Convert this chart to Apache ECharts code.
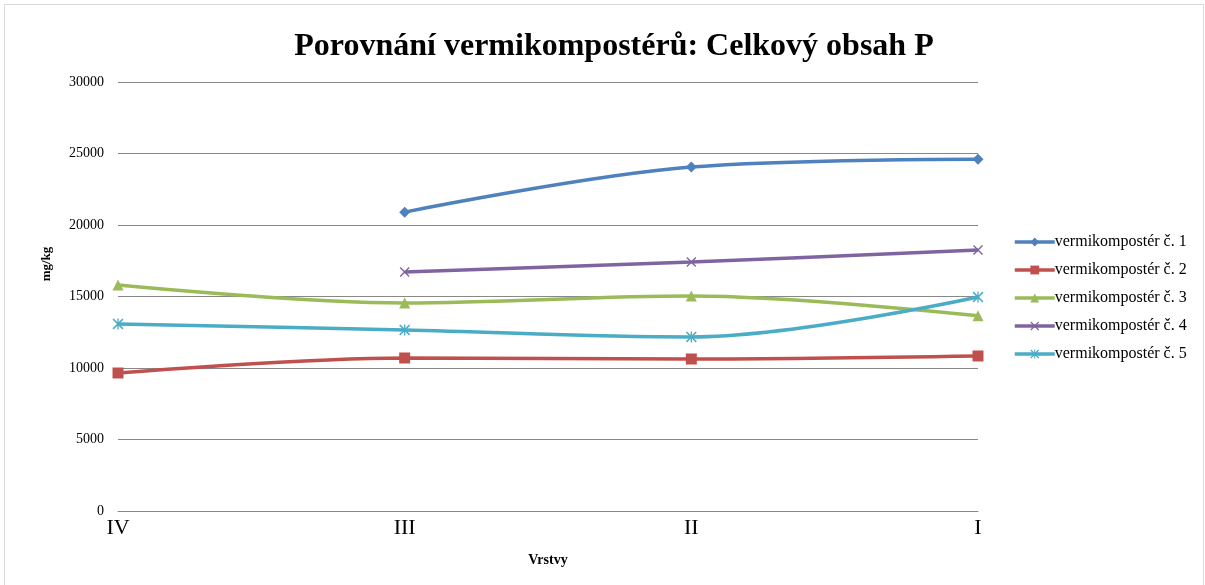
<!DOCTYPE html>
<html>
<head>
<meta charset="utf-8">
<script src="https://cdn.jsdelivr.net/npm/echarts@6/dist/echarts.min.js"></script>
<style>
  html, body { margin: 0; padding: 0; background: #fff; }
  #chart { width: 1205px; height: 585px; }
</style>
</head>
<body>
<div id="chart"></div>
<script>
// Data
const layers = ["IV", "III", "II", "I"];
const seriesNames = [
  "vermikompostér č. 1",
  "vermikompostér č. 2",
  "vermikompostér č. 3",
  "vermikompostér č. 4",
  "vermikompostér č. 5"
];
const vk1 = [null, 20900, 24050, 24600];
const vk2 = [9650, 10700, 10630, 10840];
const vk3 = [15800, 14550, 15030, 13650];
const vk4 = [null, 16710, 17420, 18250];
const vk5 = [13080, 12660, 12170, 14960];
const yTicks = [0, 5000, 10000, 15000, 20000, 25000, 30000];

const colors = ["#4F81BD", "#C0504D", "#9BBB59", "#8064A2", "#4BACC6"];
const symX = "path://M0,1 L1,0 L5,4 L9,0 L10,1 L6,5 L10,9 L9,10 L5,6 L1,10 L0,9 L4,5 Z";
const symStar = "path://M0,1 L1,0 L5,4 L9,0 L10,1 L6,5 L10,9 L9,10 L5,6 L1,10 L0,9 L4,5 Z M4.4,0 L5.6,0 L5.6,10 L4.4,10 Z";
const symbols = ["diamond", "rect", "triangle", symX, symStar];
const symbolSizes = [11, 11, 11, 10, 11];
const serif = '"Liberation Serif", "DejaVu Serif", serif';

const allData = [vk1, vk2, vk3, vk4, vk5];

let chart = echarts.init(document.getElementById("chart"));

let series = allData.map(function (d, i) {
  return {
    name: seriesNames[i],
    type: "line",
    data: d,
    smooth: 0.35,
    symbol: symbols[i],
    symbolSize: symbolSizes[i],
    showSymbol: true,
    connectNulls: false,
    lineStyle: { width: 3.5, color: colors[i] },
    itemStyle: { color: colors[i] }
  };
});

let option = {
  animation: false,
  color: colors,
  title: {
    text: "Porovnání vermikompostérů: Celkový obsah P",
    left: 609,
    textAlign: "center",
    top: 26,
    textStyle: { fontFamily: serif, fontSize: 32, fontWeight: "bold", color: "#000" }
  },
  graphic: [{
    type: "rect",
    shape: { x: 4.5, y: 4.5, width: 1199, height: 582 },
    style: { fill: "none", stroke: "#d9d9d9", lineWidth: 1 }
  }, {
    type: "text",
    x: 47,
    y: 264,
    rotation: Math.PI / 2,
    style: {
      text: "mg/kg",
      fontFamily: serif, fontSize: 13, fontWeight: "bold", fill: "#000",
      textAlign: "center", textVerticalAlign: "middle"
    }
  }],
  legend: {
    orient: "vertical",
    left: 1008,
    top: 229,
    itemGap: 12,
    itemWidth: 40,
    itemHeight: 11,
    data: seriesNames,
    lineStyle: { width: 3.5 },
    textStyle: { fontFamily: serif, fontSize: 16, color: "#000", padding: [0, 0, 0, -5] }
  },
  grid: { left: 118, right: 227, top: 82, bottom: 74 },
  xAxis: {
    type: "category",
    data: layers,
    boundaryGap: false,
    name: "Vrstvy",
    nameLocation: "middle",
    nameGap: 42,
    nameTextStyle: { fontFamily: serif, fontSize: 14, fontWeight: "bold", color: "#000" },
    axisLine: { lineStyle: { color: "#888", width: 1 } },
    axisTick: { show: false },
    axisLabel: { fontFamily: serif, fontSize: 22, color: "#000", margin: 6 }
  },
  yAxis: {
    type: "value",
    min: 0,
    max: 30000,
    interval: 5000,
    axisLine: { show: false },
    axisTick: { show: false },
    splitLine: { lineStyle: { color: "#888", width: 1 } },
    axisLabel: {
      fontFamily: serif, fontSize: 14, color: "#000", margin: 14,
      formatter: function (v) { return yTicks.indexOf(v) >= 0 ? String(v) : ""; }
    }
  },
  series: series
};

chart.setOption(option);
</script>
</body>
</html>
